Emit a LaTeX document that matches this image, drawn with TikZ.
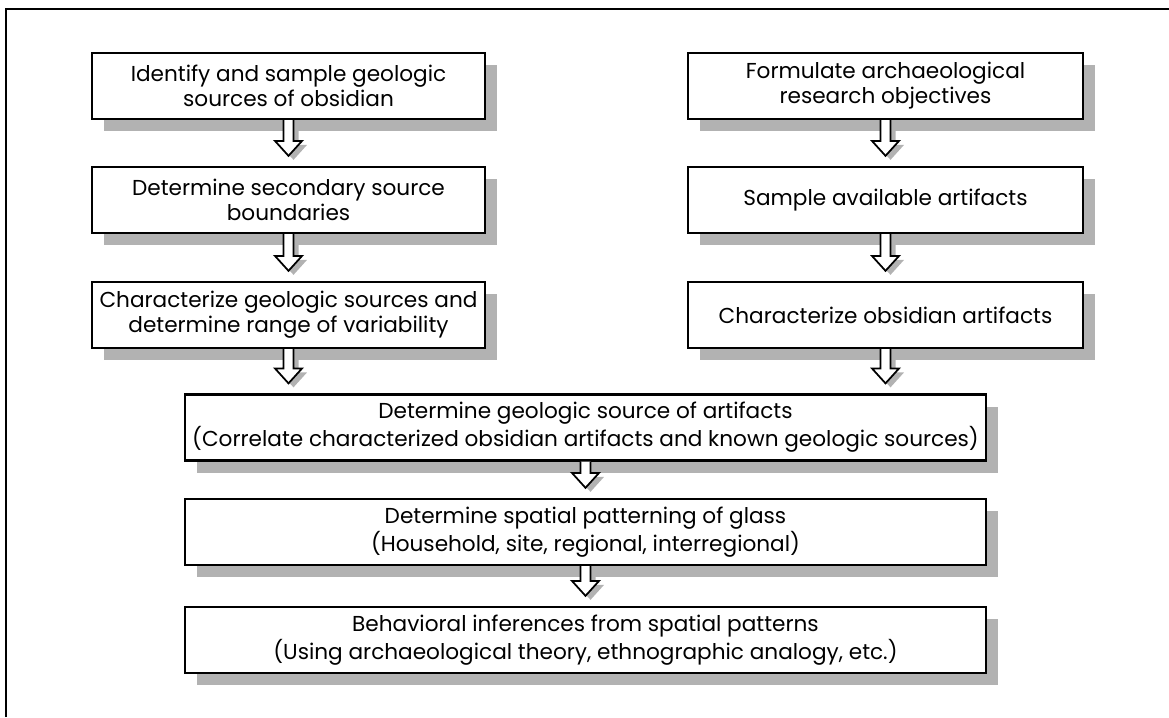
\documentclass[tikz,border=0pt]{standalone}
\usepackage{fontspec}
\setmainfont{Poppins}
\usepackage{tikz}
\usetikzlibrary{calc}
\usetikzlibrary{shadows}

% hollow block arrow from the bottom of one box to just above the next
\newcommand{\flowarrow}[2]{%
  \draw[flow] let \p1=(#1.south), \p2=(#2.north) in
    ({\x1-2.85pt},{\y1}) -- ({\x1-2.85pt},{\y2+14.2pt}) -- ({\x1-7.7pt},{\y2+14.2pt})
    -- ({\x1},{\y2+5.7pt}) -- ({\x1+7.7pt},{\y2+14.2pt}) -- ({\x1+2.85pt},{\y2+14.2pt})
    -- ({\x1+2.85pt},{\y1});
}

\begin{document}
\begin{tikzpicture}[x=0.02cm, y=-0.02cm,
    stage/.style={draw, line width=1.3pt, fill=white, align=center, minimum height=1.32cm,
      font=\fontsize{12.3}{14.2}\selectfont, inner sep=0pt,
      drop shadow={shadow xshift=0.24cm, shadow yshift=-0.24cm, fill=gray!60, opacity=1}},
    flow/.style={line width=1pt, fill=white,
      drop shadow={shadow xshift=0.1cm, shadow yshift=-0.08cm, fill=gray!60, opacity=1}}]
    \useasboundingbox (0,0) rectangle (1169,717);
    \draw[line width=1.4pt] (6,717) -- (6,9) -- (1169,9);

    \node[stage, minimum width=7.86cm] (ident)   at (288.5,  86) {Identify and sample geologic\\sources of obsidian};
    \node[stage, minimum width=7.86cm] (bound)   at (288.5, 200) {Determine secondary source\\boundaries};
    \node[stage, minimum width=7.86cm] (charsrc) at (288.5, 315) {Characterize geologic sources and\\determine range of variability};
    \node[stage, minimum width=7.90cm] (formul)  at (885.5,  86) {Formulate archaeological\\research objectives};
    \node[stage, minimum width=7.90cm] (sample)  at (885.5, 200) {Sample available artifacts};
    \node[stage, minimum width=7.90cm] (charart) at (885.5, 315) {Characterize obsidian artifacts};
    \node[stage, minimum width=16.02cm] (detsrc) at (585.5, 427.5) {Determine geologic source of artifacts\\(Correlate characterized obsidian artifacts and known geologic sources)};
    \node[stage, minimum width=16.02cm] (spat)   at (585.5, 532) {Determine spatial patterning of glass\\(Household, site, regional, interregional)};
    \node[stage, minimum width=16.02cm] (infer)  at (585.5, 640) {Behavioral inferences from spatial patterns\\(Using archaeological theory, ethnographic analogy, etc.)};

    \flowarrow{ident}{bound}
    \flowarrow{bound}{charsrc}
    \flowarrow{charsrc}{detsrc}
    \flowarrow{formul}{sample}
    \flowarrow{sample}{charart}
    \flowarrow{charart}{detsrc}
    \flowarrow{detsrc}{spat}
    \flowarrow{spat}{infer}
\end{tikzpicture}
\end{document}
